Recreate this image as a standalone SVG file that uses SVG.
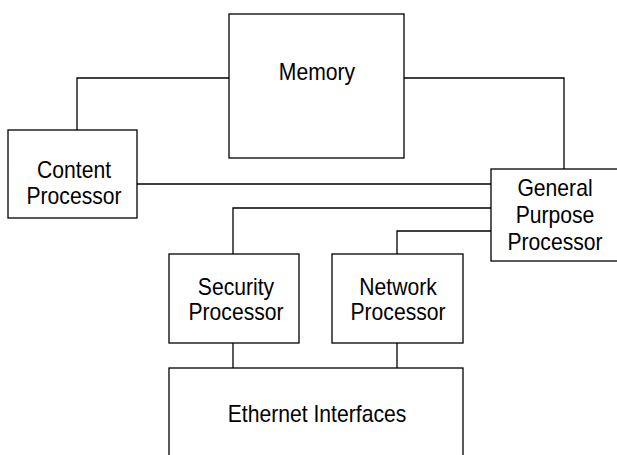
<svg xmlns="http://www.w3.org/2000/svg" width="617" height="455" viewBox="0 0 617 455">
<style>
.box{fill:#fff;stroke:#000;stroke-width:1.3}
.ln{fill:none;stroke:#000;stroke-width:1.3}
text{font-family:"Liberation Sans",Arial,sans-serif;font-size:23px;fill:#000;text-anchor:middle}
</style>
<rect width="617" height="455" fill="#fff"/>
<g id="connectors">
<polyline class="ln" points="229,78 77,78 77,130"/>
<polyline class="ln" points="404,78 564,78 564,169"/>
<line class="ln" x1="137" y1="184" x2="491" y2="184"/>
<polyline class="ln" points="491,208 233,208 233,254"/>
<polyline class="ln" points="491,231 397,231 397,254"/>
<line class="ln" x1="233" y1="343" x2="233" y2="368"/>
<line class="ln" x1="397" y1="343" x2="397" y2="368"/>
</g>
<g id="memory">
<rect class="box" x="229" y="14" width="175" height="144"/>
<text transform="translate(317,80) scale(0.92,1)">Memory</text>
</g>
<g id="content">
<rect class="box" x="8" y="130" width="129" height="88"/>
<text transform="translate(74,178) scale(0.92,1)">Content</text>
<text transform="translate(74,204) scale(0.92,1)">Processor</text>
</g>
<g id="gpp">
<rect class="box" x="491" y="169" width="130" height="92"/>
<text transform="translate(555,196) scale(0.92,1)">General</text>
<text transform="translate(555,223) scale(0.92,1)">Purpose</text>
<text transform="translate(555,250) scale(0.92,1)">Processor</text>
</g>
<g id="security">
<rect class="box" x="169" y="254" width="130" height="89"/>
<text transform="translate(236,295) scale(0.92,1)">Security</text>
<text transform="translate(236,320) scale(0.92,1)">Processor</text>
</g>
<g id="network">
<rect class="box" x="332" y="254" width="131" height="89"/>
<text transform="translate(398,295) scale(0.92,1)">Network</text>
<text transform="translate(398,320) scale(0.92,1)">Processor</text>
</g>
<g id="ethernet">
<rect class="box" x="169" y="368" width="294" height="100"/>
<text transform="translate(317,422) scale(0.92,1)">Ethernet Interfaces</text>
</g>
</svg>
